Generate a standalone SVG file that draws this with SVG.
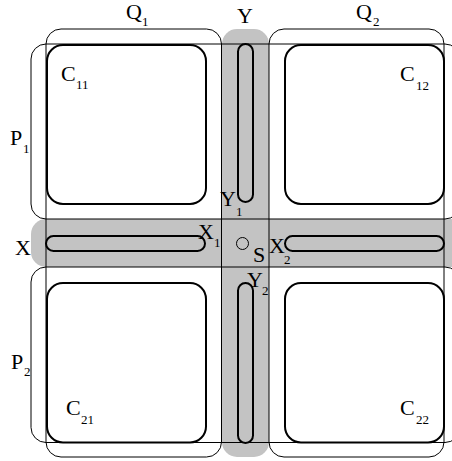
<svg xmlns="http://www.w3.org/2000/svg" width="452" height="461" viewBox="0 0 452 461">
<style>
.band{fill:#c3c3c3;stroke:none}
.thin{fill:none;stroke:#000;stroke-width:1}
.cell{fill:#fff;stroke:#000;stroke-width:2}
.cap{fill:none;stroke:#000;stroke-width:2}
text{font-family:"Liberation Serif","Times New Roman",serif;fill:#000}
.l{font-size:22px}
.s{font-size:13px}
</style>
<rect width="452" height="461" fill="#fff"/>
<g id="Y">
<rect class="band" x="222" y="29" width="47" height="428" rx="15"/>
<text class="l" x="245" y="23" text-anchor="middle">Y</text>
</g>
<g id="X">
<rect class="band" x="31" y="219" width="450" height="48" rx="15"/>
<text class="l" x="15" y="255">X</text>
</g>
<g id="Q1">
<rect class="thin" x="46" y="29" width="175.5" height="428" rx="15"/>
<text class="l" x="126" y="19">Q</text><text class="s" x="142" y="26">1</text>
</g>
<g id="Q2">
<rect class="thin" x="269" y="29" width="175" height="428" rx="15"/>
<text class="l" x="356" y="19">Q</text><text class="s" x="373" y="26">2</text>
</g>
<g id="P1">
<rect class="thin" x="31" y="44" width="429" height="175" rx="15"/>
<text class="l" x="10" y="145">P</text><text class="s" x="23" y="153">1</text>
</g>
<g id="P2">
<rect class="thin" x="31" y="267" width="429" height="175.5" rx="15"/>
<text class="l" x="11" y="369">P</text><text class="s" x="24" y="376">2</text>
</g>
<g id="C11">
<rect class="cell" x="47" y="45" width="159" height="159" rx="16"/>
<text class="l" x="61" y="81">C</text><text class="s" x="76" y="89">11</text>
</g>
<g id="C12">
<rect class="cell" x="285" y="45" width="159" height="159" rx="16"/>
<text class="l" x="400" y="81">C</text><text class="s" x="416" y="90">12</text>
</g>
<g id="C21">
<rect class="cell" x="47" y="283" width="159" height="159.5" rx="16"/>
<text class="l" x="66" y="415">C</text><text class="s" x="81" y="424">21</text>
</g>
<g id="C22">
<rect class="cell" x="285" y="283" width="159" height="159.5" rx="16"/>
<text class="l" x="400" y="415">C</text><text class="s" x="416" y="424">22</text>
</g>
<g id="Y1">
<rect class="cap" x="238" y="44" width="15" height="158" rx="7.5"/>
<text class="l" x="220" y="206">Y</text><text class="s" x="236" y="216">1</text>
</g>
<g id="Y2">
<rect class="cap" x="238" y="283" width="15" height="160" rx="7.5"/>
<text class="l" x="247" y="287">Y</text><text class="s" x="262" y="295">2</text>
</g>
<g id="X1">
<rect class="cap" x="46" y="236" width="159" height="15" rx="7.5"/>
<text class="l" x="198" y="239">X</text><text class="s" x="214" y="247">1</text>
</g>
<g id="X2">
<rect class="cap" x="285" y="236" width="159" height="15" rx="7.5"/>
<text class="l" x="269" y="253">X</text><text class="s" x="284" y="264">2</text>
</g>
<g id="S">
<circle class="thin" cx="242.5" cy="243.5" r="6"/>
<text class="l" x="253" y="262">S</text>
</g>
</svg>
